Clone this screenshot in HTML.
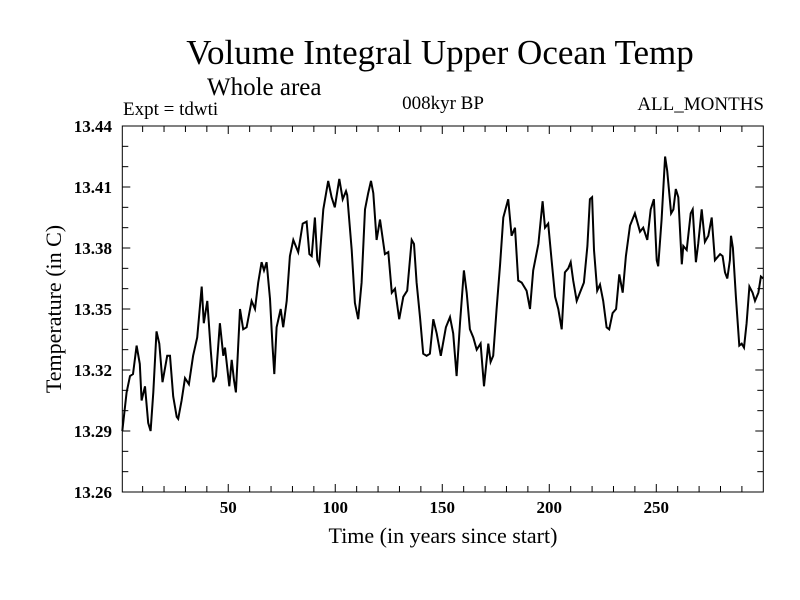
<!DOCTYPE html>
<html><head><meta charset="utf-8"><style>
body{margin:0;background:#fff;}
svg{display:block;font-family:"Liberation Serif",serif;}
</style></head><body>
<svg id="chart" width="800" height="600">
<text x="440" y="64" font-size="35" text-anchor="middle">Volume Integral Upper Ocean Temp</text>
<text x="207" y="95" font-size="25">Whole area</text>
<text x="123" y="115" font-size="19">Expt = tdwti</text>
<text x="443" y="109" font-size="19" text-anchor="middle">008kyr BP</text>
<text x="764" y="110" font-size="19" text-anchor="end">ALL_MONTHS</text>
<text x="443" y="543" font-size="22" text-anchor="middle">Time (in years since start)</text>
<text transform="translate(61,309) rotate(-90)" font-size="22" text-anchor="middle">Temperature (in C)</text>
<g id="axes"></g>
<path id="series" fill="none" stroke="#000" stroke-width="2"></path>
<rect x="122.3" y="126" width="641" height="366" fill="none" stroke="#000" stroke-width="1"/>
</svg>
<script>
const years=[0.5,2.5,4.1,5.5,7.2,8.7,9.5,11.1,12.6,13.7,15.0,16.5,17.8,19.3,21.5,22.8,24.3,25.9,26.6,28.2,29.8,31.6,33.6,35.5,37.6,38.6,40.2,41.8,43.0,44.3,46.1,47.7,48.5,50.5,51.6,52.7,53.6,55.5,57.0,58.6,60.9,62.5,64.0,65.6,66.7,67.9,69.5,70.7,71.5,72.6,74.5,75.7,77.3,78.8,80.4,82.7,84.8,86.6,87.9,89.0,90.5,91.6,92.5,94.4,96.7,98.3,99.8,101.9,103.5,105.0,105.6,107.7,109.2,110.7,112.3,113.9,115.4,116.7,117.8,119.3,120.9,123.2,124.8,126.4,127.9,129.9,131.8,133.6,135.7,136.8,138.0,139.6,141.1,142.7,144.2,145.8,147.4,149.3,151.7,153.6,155.1,156.7,158.3,160.1,161.4,162.9,164.5,166.1,167.9,169.5,171.5,172.6,173.8,175.4,177.0,178.5,180.8,182.4,184.0,185.5,187.1,189.4,191.0,192.5,194.9,196.9,198.0,199.5,201.1,202.7,204.2,205.8,207.3,208.9,210.0,211.2,212.8,214.3,216.2,217.8,219.0,220.0,220.9,222.4,223.7,225.2,226.8,228.0,229.6,231.2,232.7,234.3,235.8,237.7,240.0,242.4,243.9,245.8,247.4,248.9,250.2,250.9,252.5,254.1,255.1,256.9,258.0,259.1,260.3,261.9,262.6,264.2,266.1,267.0,268.5,269.6,271.2,272.7,274.3,275.9,277.4,279.8,281.0,282.1,283.2,284.4,284.9,285.8,287.2,288.8,289.9,291.0,292.2,293.5,295.0,296.1,297.7,298.9,300.0];
const temps=[13.290,13.309,13.317,13.318,13.332,13.323,13.305,13.312,13.294,13.290,13.309,13.339,13.333,13.314,13.327,13.327,13.307,13.297,13.296,13.305,13.316,13.313,13.327,13.336,13.361,13.343,13.354,13.330,13.314,13.317,13.343,13.327,13.331,13.312,13.325,13.315,13.309,13.350,13.340,13.341,13.354,13.350,13.363,13.373,13.369,13.373,13.355,13.332,13.318,13.341,13.350,13.341,13.354,13.376,13.384,13.378,13.392,13.393,13.377,13.376,13.395,13.374,13.372,13.399,13.413,13.405,13.400,13.414,13.404,13.408,13.406,13.379,13.353,13.345,13.363,13.399,13.407,13.413,13.407,13.384,13.394,13.377,13.378,13.358,13.360,13.345,13.356,13.359,13.384,13.382,13.363,13.346,13.328,13.327,13.328,13.345,13.338,13.327,13.341,13.346,13.338,13.317,13.343,13.369,13.358,13.340,13.336,13.330,13.333,13.312,13.333,13.324,13.327,13.350,13.372,13.395,13.404,13.386,13.390,13.364,13.363,13.359,13.350,13.369,13.382,13.403,13.390,13.392,13.374,13.356,13.350,13.340,13.368,13.370,13.373,13.364,13.354,13.358,13.363,13.381,13.404,13.405,13.379,13.359,13.362,13.354,13.341,13.340,13.348,13.350,13.367,13.358,13.376,13.391,13.397,13.388,13.390,13.384,13.399,13.404,13.374,13.371,13.394,13.425,13.418,13.397,13.399,13.409,13.405,13.372,13.381,13.379,13.397,13.399,13.373,13.382,13.399,13.383,13.386,13.395,13.374,13.377,13.376,13.368,13.365,13.374,13.386,13.380,13.356,13.332,13.333,13.331,13.343,13.361,13.358,13.354,13.358,13.366,13.365];
const xTickLabels=[50,100,150,200,250];
const yTickLabels=["13.26","13.29","13.32","13.35","13.38","13.41","13.44"];

const X0=122.3,X1=763.3,Y0=126,Y1=492,XMIN=0.5,XMAX=300,YMIN=13.26,YMAX=13.44;
function sx(v){return X0+(v-XMIN)/(XMAX-XMIN)*(X1-X0);}
function sy(v){return Y1-(v-YMIN)/(YMAX-YMIN)*(Y1-Y0);}
const NS="http://www.w3.org/2000/svg";
const axes=document.getElementById('axes');
function line(x1,y1,x2,y2,name){
  const l=document.createElementNS(NS,'line');
  l.setAttribute('x1',x1);l.setAttribute('y1',y1);l.setAttribute('x2',x2);l.setAttribute('y2',y2);
  l.setAttribute('stroke','#000');l.setAttribute('stroke-width','1');
  
  
  axes.appendChild(l);
}
function text(x,y,s,anchor,name){
  const t=document.createElementNS(NS,'text');
  t.setAttribute('x',x);t.setAttribute('y',y);t.setAttribute('font-size','17');t.setAttribute('font-weight','bold');t.setAttribute('text-anchor',anchor);
  t.textContent=s;
  
  
  axes.appendChild(t);
}
for(let yr=10;yr<300;yr+=10){
  const x=sx(yr);const len=(yr%50===0)?8:6;
  line(x,Y1,x,Y1-len,'x-tick');
  line(x,Y0,x,Y0+len,'x-tick');
}
xTickLabels.forEach(v=>text(sx(v),513,String(v),'middle','x-tick-label'));
for(let i=1;i<18;i++){
  const v=YMIN+i*0.01;const y=sy(v);const len=(i%3===0)?8:6;
  line(X0,y,X0+len,y,'y-tick');
  line(X1,y,X1-len,y,'y-tick');
}
yTickLabels.forEach(s=>text(112,sy(parseFloat(s))+6,s,'end','y-tick-label'));
let d='';
for(let i=0;i<years.length;i++){d+=(i?'L':'M')+sx(years[i]).toFixed(1)+','+sy(temps[i]).toFixed(1);}
document.getElementById('series').setAttribute('d',d);
</script>
</body></html>
